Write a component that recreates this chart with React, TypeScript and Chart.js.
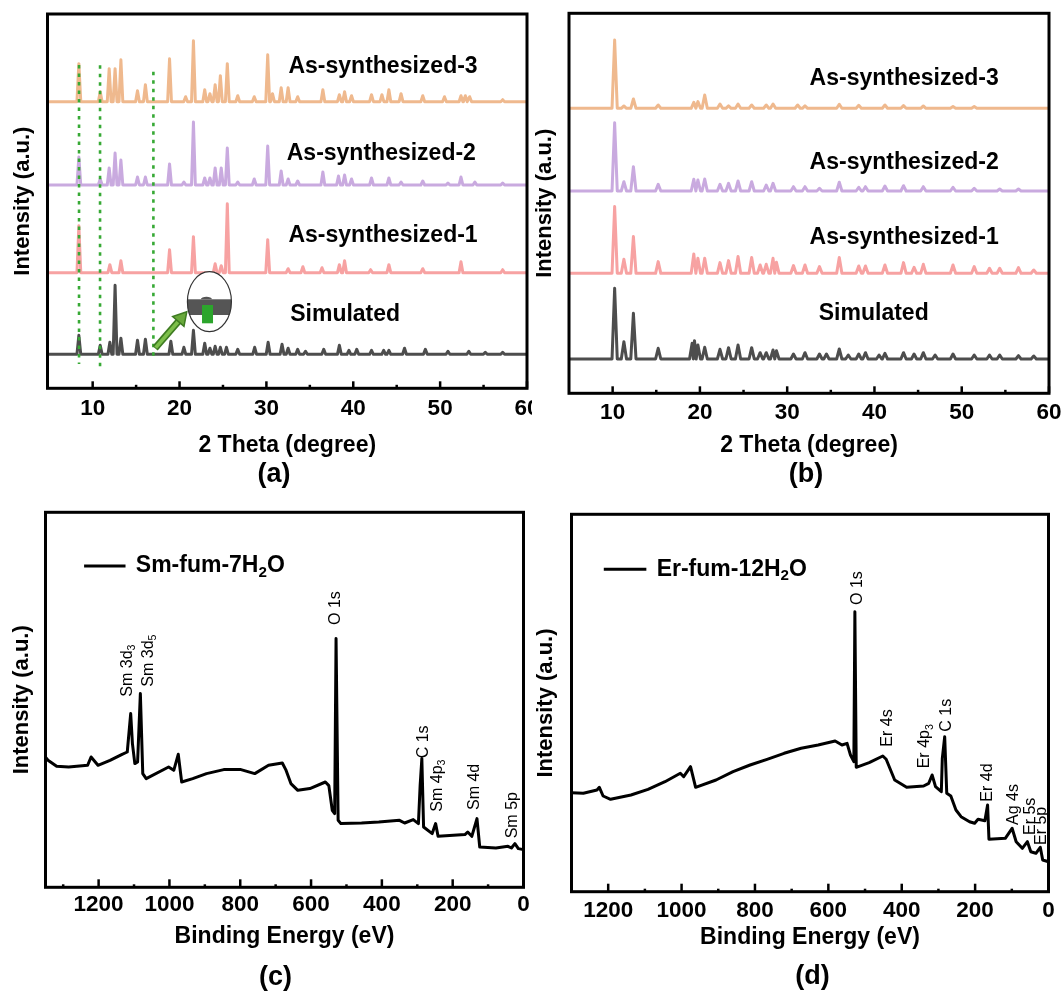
import React, { useEffect, useRef } from 'react';
import { Chart, registerables } from 'chart.js';

Chart.register(...registerables);

const FONT = '"Liberation Sans", Arial, Helvetica, sans-serif';
const INK = '#000000';

// ---------- (a) PXRD: simulated pattern vs. three as-synthesized batches ----------
const aRange = [4.8, 60];
const aYMax = 374.3;
const aTicks = [10, 20, 30, 40, 50, 60];
const aMinorTicks = [15, 25, 35, 45, 55];
const aNames = ['Simulated', 'As-synthesized-1', 'As-synthesized-2', 'As-synthesized-3'];
const aOffsets = [34, 115.6, 203.3, 286.6];
const aLabelX = [32.74, 32.54, 32.34, 32.54];
const aLabelY = [73.3, 152.3, 235, 321.6];

const aSimPos = [8.41, 10.87, 11.98, 12.58, 13.25, 15.16, 16.07, 19.0, 20.5, 21.6, 22.9, 23.5, 24.1, 24.7, 25.4, 26.7, 28.65, 30.2, 31.8, 32.5, 33.6, 34.5, 36.6, 38.4, 39.5, 40.4, 42.1, 43.5, 44.1, 45.9, 48.3, 50.9, 53.3, 55.2, 57.2];
const aSimInt = [19, 9, 12, 69, 16, 14, 15, 13, 7, 24, 11, 6, 8, 7, 7, 5, 7, 12, 10, 6, 5, 3, 5, 9, 4, 5, 4, 4, 4, 6, 5, 3, 3, 2, 2];
const aAs1Pos = [8.41, 11.98, 13.25, 18.85, 21.6, 24.1, 24.8, 25.5, 30.15, 32.5, 34.2, 36.4, 38.4, 39.0, 42.0, 44.1, 48.0, 52.4, 57.2];
const aAs1Int = [47, 8, 12, 23, 36, 9, 7, 69, 33, 4, 6, 5, 8, 12, 3, 8, 4, 11, 3];
const aAs2Pos = [8.41, 10.87, 11.9, 12.58, 13.25, 15.16, 16.07, 18.85, 20.5, 21.6, 22.9, 23.5, 24.1, 24.8, 25.5, 26.7, 28.6, 30.15, 31.7, 32.5, 33.6, 36.5, 38.3, 39.0, 39.8, 42.1, 44.1, 45.5, 48.0, 50.9, 52.4, 54.0, 57.2];
const aAs2Int = [28, 6, 17, 32, 25, 8, 8, 21, 3, 63, 7, 7, 17, 17, 37, 3, 6, 39, 14, 6, 4, 13, 9, 10, 6, 7, 7, 3, 4, 2, 8, 3, 2];
const aAs3Pos = [8.41, 10.87, 11.9, 12.58, 13.25, 15.16, 16.07, 18.85, 20.7, 21.6, 22.9, 23.5, 24.1, 24.7, 25.5, 26.7, 28.6, 30.15, 30.7, 31.7, 32.5, 33.6, 36.5, 38.4, 39.0, 39.8, 42.1, 43.3, 44.1, 45.5, 48.0, 50.5, 52.4, 52.9, 53.4, 57.2];
const aAs3Int = [38, 10, 33, 33, 42, 11, 17, 43, 5, 61, 12, 8, 17, 26, 38, 6, 5, 47, 8, 14, 14, 5, 12, 7, 10, 6, 7, 7, 12, 8, 6, 5, 6, 6, 5, 2];

// dotted reference lines through the low-angle reflections
const aGuideX = [8.43, 10.85, 16.99];
const aGuideTop = [323.3, 323, 316.6];
const aGuideBottom = [24.3, 18.3, 31.6];
// magnified-view callout and its pointer
const aInsetAt = [23.44, 86.6];
const aArrowFrom = [17.18, 40];
const aArrowTo = [20.84, 76.6];

// ---------- (b) PXRD of the second compound ----------
const bRange = [5, 60];
const bYMax = 380;
const bTicks = [10, 20, 30, 40, 50, 60];
const bMinorTicks = [15, 25, 35, 45, 55];
const bOffsets = [34.3, 120, 202.3, 285];
const bLabelX = [33.62, 32.57, 32.57, 32.57];
const bLabelY = [80, 156, 231, 314.3];

const bSimPos = [10.23, 11.29, 12.38, 15.22, 19.11, 19.38, 19.77, 20.55, 22.3, 23.28, 24.37, 25.93, 26.9, 27.6, 28.38, 28.77, 30.72, 32.04, 33.7, 34.5, 35.97, 37.0, 38.2, 38.97, 40.53, 41.2, 43.33, 44.54, 45.6, 46.95, 49.0, 51.43, 53.18, 54.35, 56.5, 58.25];
const bSimInt = [70.7, 17.3, 45.7, 10.7, 15.7, 18.3, 14, 11.7, 9.7, 11.3, 14, 11.3, 6.3, 6.3, 9, 8.3, 5, 6.3, 5, 5, 10, 4, 5, 6.3, 4, 5.7, 6.3, 5, 6.3, 4, 5, 4, 4, 4, 3.3, 3];
const bAs1Pos = [10.23, 11.29, 12.38, 15.22, 19.3, 19.77, 20.55, 22.3, 23.28, 24.37, 25.93, 26.9, 27.6, 28.38, 28.77, 30.72, 32.04, 33.7, 35.97, 38.2, 38.97, 41.2, 43.33, 44.54, 45.6, 49.0, 51.43, 53.18, 54.35, 56.5, 58.25];
const bAs1Int = [66.7, 14, 36.7, 11.7, 19.3, 15, 15, 10.7, 12.7, 16.7, 15.7, 8.3, 9, 15, 11, 7.7, 8.3, 6.7, 15.7, 7.3, 7.3, 8.3, 10.7, 6, 9, 8.3, 6.7, 5, 5, 5.7, 3.3];
const bAs2Pos = [10.23, 11.29, 12.38, 15.22, 19.3, 19.77, 20.55, 22.3, 23.28, 24.37, 25.93, 27.6, 28.38, 30.72, 32.04, 33.7, 35.97, 38.2, 38.97, 41.2, 43.33, 45.6, 49.0, 51.43, 54.35, 56.5];
const bAs2Int = [68.3, 9.3, 24.3, 6.7, 11.7, 11, 12, 6.7, 7.7, 10, 9.3, 6, 7.7, 4.3, 4.3, 2.7, 8.7, 3.7, 4.3, 5, 5.3, 4.3, 3.7, 2.7, 2, 2];
const bAs3Pos = [10.23, 11.29, 12.38, 15.22, 19.3, 19.77, 20.55, 22.3, 23.28, 24.37, 25.93, 27.6, 28.38, 31.2, 32.04, 35.97, 38.2, 41.2, 43.33, 45.6, 49.0, 51.43];
const bAs3Int = [68.3, 2.3, 9.3, 3.3, 6, 6.7, 13.3, 4.3, 2.5, 4.3, 3.3, 3.3, 4.3, 3.3, 2.5, 4, 3, 3.3, 2.7, 2.3, 1.7, 1.7];

const xrdColors = ['#4d4d4d', '#f7a2a2', '#c9aadf', '#efb98e'];

// ---------- (c) XPS survey, Sm-fum-7H2O ----------
const cRange = [0, 1350];
const cYMax = 375;
const cTicks = [0, 200, 400, 600, 800, 1000, 1200];
const cMinorTicks = [100, 300, 500, 700, 900, 1100, 1300];
const cBE = [1350, 1343, 1318.6, 1284.5, 1231, 1221.3, 1201.8, 1167.8, 1133.7, 1119.1, 1109.4, 1104.5, 1097.7, 1089.9, 1082.1, 1075.3, 1065.6, 1002.3, 987.7, 975.1, 965.4, 934.2, 895.3, 846.6, 798, 759, 720.1, 681.2, 671.5, 656.9, 637.4, 603.3, 559.6, 549.8, 540.1, 533.3, 529.4, 523.5, 515.8, 457.4, 408.7, 350.3, 335.7, 311.4, 296.8, 291.9, 287.1, 282.2, 257.9, 248.2, 241.3, 165.4, 157.6, 146, 131.4, 123.6, 77.9, 43.8, 34.1, 24.3, 14.6, 0];
const cCounts = [130, 127, 121, 120.3, 122, 130.3, 122, 127, 133, 135.3, 173.7, 143.7, 123.7, 125.3, 193.7, 113.7, 108.7, 120.3, 117, 133, 105.3, 108.7, 113.7, 117.7, 117.7, 113.7, 122, 124.3, 117.7, 103.7, 97, 98.7, 105.3, 101.7, 77, 73.7, 248.7, 67, 63.7, 64.3, 65.3, 67, 64.3, 67.7, 63.7, 102, 128.7, 60.3, 53.7, 63.7, 51, 52.7, 55.3, 51, 68.7, 40.3, 39.3, 41, 39.3, 43.7, 38.7, 37.7];
const cPeakNames = ['Sm 3d_3', 'Sm 3d_5', 'O 1s', 'C 1s', 'Sm 4p_3', 'Sm 4d', 'Sm 5p'];
const cPeakBE = [1119, 1058.8, 530.4, 283, 243, 138.7, 30.3];
const cPeakY = [190.6, 200.6, 262.3, 129, 75.6, 77.3, 49];
const cLegendName = 'Sm-fum-7H_2O';
const cLegendLine = [1241, 1124];
const cLegendTextAt = 1095;
const cLegendY = 321.3;

// ---------- (d) XPS survey, Er-fum-12H2O ----------
const dRange = [0, 1300];
const dYMax = 377.4;
const dTicks = [0, 200, 400, 600, 800, 1000, 1200];
const dMinorTicks = [100, 300, 500, 700, 900, 1100];
const dBE = [1300, 1267.7, 1230.6, 1224.1, 1213.9, 1193.5, 1137.9, 1091.5, 1045.2, 1003.4, 994.2, 975.6, 961.7, 906.1, 859.7, 813.3, 767, 720.6, 674.2, 627.8, 581.5, 562.9, 549, 539.7, 530.5, 527.7, 524, 488.7, 451.6, 442.4, 419.2, 386.7, 340.3, 326.4, 317.2, 307.9, 292.1, 289.4, 282.9, 277.3, 266.2, 252.2, 238.3, 215.2, 201.3, 192, 173.4, 166, 162.3, 117.8, 99.2, 88.1, 71.4, 57.5, 48.2, 34.3, 22.4, 15.8, 0];
const dCounts = [99, 98.4, 101.7, 104.4, 95.7, 92.4, 96.7, 102.4, 110, 118.4, 115, 125, 104.4, 111.7, 120, 126.7, 132.4, 138.4, 143.4, 146.7, 150.7, 146.7, 148.4, 136.7, 130, 280, 124.4, 129, 135.7, 132.4, 111.7, 104.4, 105.7, 108.4, 116.7, 105, 100, 133.4, 155, 98.4, 95.7, 81.7, 75, 70, 68.4, 72.4, 71, 86.7, 52.4, 53.4, 63.4, 50, 43.4, 50, 40, 38.4, 44.4, 31.7, 30];
const dPeakNames = ['O 1s', 'Er 4s', 'Er 4p_3', 'C 1s', 'Er 4d', 'Ag 4s', 'Er 5s', 'Er 5p'];
const dPeakBE = [521.2, 437.7, 336.6, 277.3, 166, 95.4, 47.8, 17.8];
const dPeakY = [286.7, 145, 123.4, 160, 90, 66.7, 56.7, 46.7];
const dLegendName = 'Er-fum-12H_2O';
const dLegendLine = [1212, 1096];
const dLegendTextAt = 1068;
const dLegendY = 322.4;

type Pt = { x: number; y: number };

// Stick-like diffraction trace: baseline, then a narrow triangle per reflection
function peakTrace(pos: number[], heights: number[], base: number, halfWidth: number, x0: number, x1: number): Pt[] {
  const pts: Pt[] = [{ x: x0, y: base }];
  pos.forEach((p, i) => {
    const prev = i > 0 ? pos[i - 1] : -Infinity;
    const next = i < pos.length - 1 ? pos[i + 1] : Infinity;
    const l = Math.max(p - halfWidth, (prev + p) / 2);
    const r = Math.min(p + halfWidth, (p + next) / 2);
    if (l > pts[pts.length - 1].x) pts.push({ x: l, y: base });
    pts.push({ x: p, y: base + heights[i] });
    pts.push({ x: r, y: base });
  });
  pts.push({ x: x1, y: base });
  return pts;
}

function zip(xs: number[], ys: number[]): Pt[] {
  return xs.map((x, i) => ({ x, y: ys[i] }));
}

// Text with "_n" subscripts
function drawRich(ctx: CanvasRenderingContext2D, text: string, x: number, y: number, size: number, weight: string) {
  const parts: { t: string; sub: boolean }[] = [];
  for (let i = 0; i < text.length; i++) {
    if (text[i] === '_' && i + 1 < text.length) {
      parts.push({ t: text[i + 1], sub: true });
      i++;
    } else if (parts.length && !parts[parts.length - 1].sub) {
      parts[parts.length - 1].t += text[i];
    } else {
      parts.push({ t: text[i], sub: false });
    }
  }
  ctx.textAlign = 'left';
  ctx.textBaseline = 'middle';
  let cx = x;
  for (const p of parts) {
    const fs = p.sub ? size * 0.66 : size;
    ctx.font = `${weight} ${fs}px ${FONT}`;
    ctx.fillText(p.t, cx, p.sub ? y + size * 0.3 : y);
    cx += ctx.measureText(p.t).width;
  }
}

function xAxis(range: number[], ticks: number[], reverse: boolean, title: string, axisH: number, tickPad: number, titlePad: number) {
  return {
    type: 'linear',
    min: range[0],
    max: range[1],
    reverse,
    afterBuildTicks: (s: any) => {
      s.ticks = ticks.map((v) => ({ value: v }));
    },
    afterFit: (s: any) => {
      s.height = axisH;
      s.paddingLeft = 0;
      s.paddingRight = 0;
    },
    ticks: {
      autoSkip: false,
      maxRotation: 0,
      minRotation: 0,
      padding: tickPad,
      color: INK,
      font: { family: FONT, size: 22.5, weight: 'bold' },
      callback: (v: any) => String(v),
    },
    grid: { display: false, drawTicks: false },
    border: { display: false },
    title: {
      display: true,
      text: title,
      color: INK,
      font: { family: FONT, size: 23, weight: 'bold' },
      padding: { top: 0, bottom: titlePad },
    },
  };
}

function yAxis(yMax: number, axisW: number, titlePad: number) {
  return {
    type: 'linear',
    min: 0,
    max: yMax,
    afterFit: (s: any) => {
      s.width = axisW;
      s.paddingTop = 0;
      s.paddingBottom = 0;
    },
    ticks: { display: false },
    grid: { display: false, drawTicks: false },
    border: { display: false },
    title: {
      display: true,
      text: 'Intensity (a.u.)',
      color: INK,
      font: { family: FONT, size: 22, weight: 'bold' },
      padding: { top: titlePad, bottom: 0 },
    },
  };
}

// Box frame, inward bottom ticks and the panel letter
function framePlugin(majors: number[], minors: number[], majorLen: number, minorLen: number, tag: string, tagX: number, tagY: number) {
  return {
    id: 'frame',
    afterDraw(chart: any) {
      const { ctx, chartArea: a } = chart;
      const x = chart.scales.x;
      ctx.save();
      ctx.strokeStyle = INK;
      ctx.lineWidth = 2.5;
      const tick = (v: number, len: number) => {
        const px = x.getPixelForValue(v);
        ctx.beginPath();
        ctx.moveTo(px, a.bottom);
        ctx.lineTo(px, a.bottom - len);
        ctx.stroke();
      };
      majors.forEach((v) => tick(v, majorLen));
      minors.forEach((v) => tick(v, minorLen));
      ctx.lineWidth = 3;
      ctx.strokeRect(a.left, a.top, a.right - a.left, a.bottom - a.top);
      ctx.fillStyle = INK;
      ctx.font = `bold 27px ${FONT}`;
      ctx.textAlign = 'center';
      ctx.textBaseline = 'middle';
      ctx.fillText(tag, tagX, tagY);
      ctx.restore();
    },
  };
}

function seriesLabelPlugin(names: string[], lx: number[], ly: number[]) {
  return {
    id: 'seriesLabels',
    afterDatasetsDraw(chart: any) {
      const { ctx } = chart;
      const { x, y } = chart.scales;
      ctx.save();
      ctx.fillStyle = INK;
      ctx.font = `bold 23px ${FONT}`;
      ctx.textAlign = 'left';
      ctx.textBaseline = 'middle';
      names.forEach((n, i) => ctx.fillText(n, x.getPixelForValue(lx[i]), y.getPixelForValue(ly[i])));
      ctx.restore();
    },
  };
}

const guidePlugin = {
  id: 'guides',
  afterDatasetsDraw(chart: any) {
    const { ctx } = chart;
    const { x, y } = chart.scales;
    ctx.save();
    // dotted guide lines
    ctx.strokeStyle = '#37a935';
    ctx.lineWidth = 2.6;
    ctx.setLineDash([3.5, 5]);
    aGuideX.forEach((g, i) => {
      const px = x.getPixelForValue(g);
      ctx.beginPath();
      ctx.moveTo(px, y.getPixelForValue(aGuideTop[i]));
      ctx.lineTo(px, y.getPixelForValue(aGuideBottom[i]));
      ctx.stroke();
    });
    ctx.setLineDash([]);

    // pointer arrow
    const x0 = x.getPixelForValue(aArrowFrom[0]);
    const y0 = y.getPixelForValue(aArrowFrom[1]);
    const x1 = x.getPixelForValue(aArrowTo[0]);
    const y1 = y.getPixelForValue(aArrowTo[1]);
    const ang = Math.atan2(y1 - y0, x1 - x0);
    const head = 13;
    const hw = 7.5;
    const bx = x1 - head * Math.cos(ang);
    const by = y1 - head * Math.sin(ang);
    ctx.lineCap = 'butt';
    ctx.strokeStyle = '#3e7b22';
    ctx.lineWidth = 7;
    ctx.beginPath();
    ctx.moveTo(x0, y0);
    ctx.lineTo(bx, by);
    ctx.stroke();
    ctx.strokeStyle = '#7dbf4b';
    ctx.lineWidth = 3.5;
    ctx.beginPath();
    ctx.moveTo(x0 + Math.cos(ang), y0 + Math.sin(ang));
    ctx.lineTo(bx, by);
    ctx.stroke();
    ctx.beginPath();
    ctx.moveTo(x1, y1);
    ctx.lineTo(bx + hw * Math.sin(ang), by - hw * Math.cos(ang));
    ctx.lineTo(bx - hw * Math.sin(ang), by + hw * Math.cos(ang));
    ctx.closePath();
    ctx.fillStyle = '#69a93b';
    ctx.fill();
    ctx.strokeStyle = '#3e7b22';
    ctx.lineWidth = 1.5;
    ctx.stroke();

    // magnified view
    const cx = x.getPixelForValue(aInsetAt[0]);
    const cy = y.getPixelForValue(aInsetAt[1]);
    ctx.save();
    ctx.beginPath();
    ctx.ellipse(cx, cy, 22, 30, 0, 0, Math.PI * 2);
    ctx.fillStyle = '#ffffff';
    ctx.fill();
    ctx.clip();
    ctx.fillStyle = '#555555';
    ctx.fillRect(cx - 25, cy - 2.4, 50, 15.7);
    ctx.beginPath();
    ctx.ellipse(cx - 3, cy - 2.4, 5.5, 2.6, 0, Math.PI, 0);
    ctx.fill();
    ctx.fillStyle = '#2ca52c';
    ctx.fillRect(cx - 7.4, cy + 3.3, 11, 18.3);
    ctx.restore();
    ctx.beginPath();
    ctx.ellipse(cx, cy, 22, 30, 0, 0, Math.PI * 2);
    ctx.strokeStyle = '#333333';
    ctx.lineWidth = 1.2;
    ctx.stroke();
    ctx.restore();
  },
};

function xpsPlugin(names: string[], be: number[], ys: number[], legend: string, line: number[], textAt: number, ly: number) {
  return {
    id: 'xpsNotes',
    afterDatasetsDraw(chart: any) {
      const { ctx } = chart;
      const { x, y } = chart.scales;
      ctx.save();
      ctx.fillStyle = INK;
      names.forEach((n, i) => {
        ctx.save();
        ctx.translate(x.getPixelForValue(be[i]), y.getPixelForValue(ys[i]));
        ctx.rotate(-Math.PI / 2);
        drawRich(ctx, n, 0, 0, 16, 'normal');
        ctx.restore();
      });
      const py = y.getPixelForValue(ly);
      ctx.strokeStyle = INK;
      ctx.lineWidth = 3;
      ctx.beginPath();
      ctx.moveTo(x.getPixelForValue(line[0]), py);
      ctx.lineTo(x.getPixelForValue(line[1]), py);
      ctx.stroke();
      drawRich(ctx, legend, x.getPixelForValue(textAt), py, 23, 'bold');
      ctx.restore();
    },
  };
}

function baseOptions(pad: { top: number; right: number }, scales: any) {
  return {
    responsive: false,
    animation: false,
    events: [],
    layout: { padding: { left: 0, top: pad.top, right: pad.right, bottom: 0 }, autoPadding: false },
    plugins: { legend: { display: false }, tooltip: { enabled: false }, title: { display: false } },
    scales,
  };
}

function lineSet(data: Pt[], color: string, width: number) {
  return {
    data,
    showLine: true,
    borderColor: color,
    backgroundColor: color,
    borderWidth: width,
    pointRadius: 0,
    fill: false,
    tension: 0,
    borderJoinStyle: 'round',
    borderCapStyle: 'round',
  };
}

const makeA = () => {
  const pos = [aSimPos, aAs1Pos, aAs2Pos, aAs3Pos];
  const ints = [aSimInt, aAs1Int, aAs2Int, aAs3Int];
  return {
    type: 'scatter',
    data: {
      datasets: pos.map((p, i) => lineSet(peakTrace(p, ints[i], aOffsets[i], 0.22, aRange[0], aRange[1]), xrdColors[i], 3)),
    },
    options: baseOptions({ top: 14, right: 5 }, {
      x: xAxis(aRange, aTicks, false, '2 Theta (degree)', 111.7, 6.5, 40.2),
      y: yAxis(aYMax, 47.5, 9.8),
    }),
    plugins: [guidePlugin, seriesLabelPlugin(aNames, aLabelX, aLabelY), framePlugin(aTicks, aMinorTicks, 7, 3.5, '(a)', 274, 475)],
  };
};

const makeB = () => {
  const pos = [bSimPos, bAs1Pos, bAs2Pos, bAs3Pos];
  const ints = [bSimInt, bAs1Int, bAs2Int, bAs3Int];
  return {
    type: 'scatter',
    data: {
      datasets: pos.map((p, i) => lineSet(peakTrace(p, ints[i], bOffsets[i], 0.3, bRange[0], bRange[1]), xrdColors[i], 3)),
    },
    options: baseOptions({ top: 13.3, right: 13 }, {
      x: xAxis(bRange, bTicks, false, '2 Theta (degree)', 106.7, 6.2, 40.2),
      y: yAxis(bYMax, 37, 0),
    }),
    plugins: [seriesLabelPlugin(aNames, bLabelX, bLabelY), framePlugin(bTicks, bMinorTicks, 7, 3.5, '(b)', 274, 475)],
  };
};

const makeC = () => ({
  type: 'scatter',
  data: { datasets: [lineSet(zip(cBE, cCounts), '#000000', 3)] },
  options: baseOptions({ top: 12.3, right: 8.5 }, {
    x: xAxis(cRange, cTicks, true, 'Binding Energy (eV)', 106.7, 4.2, 43.5),
    y: yAxis(cYMax, 45.5, 8.9),
  }),
  plugins: [
    xpsPlugin(cPeakNames, cPeakBE, cPeakY, cLegendName, cLegendLine, cLegendTextAt, cLegendY),
    framePlugin(cTicks, cMinorTicks, 8, 3, '(c)', 275.5, 477.6),
  ],
});

const makeD = () => ({
  type: 'scatter',
  data: { datasets: [lineSet(zip(dBE, dCounts), '#000000', 3)] },
  options: baseOptions({ top: 14.3, right: 13.5 }, {
    x: xAxis(dRange, dTicks, true, 'Binding Energy (eV)', 102.3, 5.5, 42.9),
    y: yAxis(dYMax, 39.5, 0.6),
  }),
  plugins: [
    xpsPlugin(dPeakNames, dPeakBE, dPeakY, dLegendName, dLegendLine, dLegendTextAt, dLegendY),
    framePlugin(dTicks, dMinorTicks, 8, 3, '(d)', 280.5, 476.6),
  ],
});

function ChartCanvas({ left, top, width, height, make }: { left: number; top: number; width: number; height: number; make: () => any }) {
  const ref = useRef<HTMLCanvasElement | null>(null);
  useEffect(() => {
    if (!ref.current) return;
    const chart = new Chart(ref.current, make());
    return () => chart.destroy();
  }, [make]);
  return (
    <canvas
      ref={ref}
      width={width}
      height={height}
      style={{ position: 'absolute', left, top, width, height, display: 'block' }}
    />
  );
}

export default function App() {
  return (
    <div style={{ position: 'absolute', left: 0, top: 0, width: 1062, height: 994, background: '#ffffff', overflow: 'hidden' }}>
      <ChartCanvas left={0} top={0} width={532} height={500} make={makeA} />
      <ChartCanvas left={532} top={0} width={530} height={500} make={makeB} />
      <ChartCanvas left={0} top={500} width={532} height={494} make={makeC} />
      <ChartCanvas left={532} top={500} width={530} height={494} make={makeD} />
    </div>
  );
}
